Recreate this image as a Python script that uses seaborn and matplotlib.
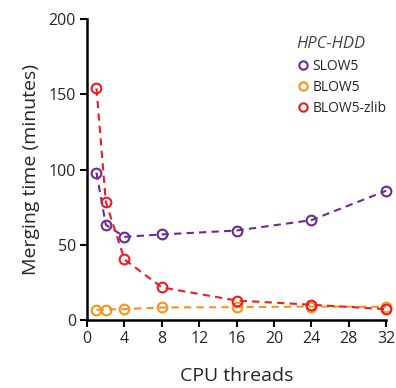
import matplotlib
matplotlib.use("Agg")
import matplotlib.pyplot as plt
import seaborn as sns
import pandas as pd
from matplotlib.lines import Line2D

threads = [1, 2, 4, 8, 16, 24, 32]
slow5 = [98, 63.3, 55.3, 56.9, 59.5, 66.4, 85.9]
blow5 = [6.8, 7.0, 7.3, 8.4, 8.6, 9.0, 8.8]
blow5_zlib = [153.9, 78.4, 40.3, 21.7, 13.0, 10.2, 7.3]
series_names = ["SLOW5", "BLOW5", "BLOW5-zlib"]
colors = ["#6b2c91", "#f7941d", "#ed1c24"]

rows = []
for name, vals in zip(series_names, [slow5, blow5, blow5_zlib]):
    for t, v in zip(threads, vals):
        rows.append({"threads": t, "time": v, "format": name})
df = pd.DataFrame(rows)

sns.set_style("ticks")
plt.rcParams['font.family'] = ['Open Sans', 'DejaVu Sans']

fig = plt.figure(figsize=(3.96, 3.88), dpi=100)
ax = fig.add_axes([0.22, 0.175, 0.755, 0.776])

palette = dict(zip(series_names, colors))
sns.lineplot(data=df, x="threads", y="time", hue="format", palette=palette,
             ax=ax, linestyle=(0, (3.5, 2.5)), linewidth=1.5, legend=False,
             marker="o", markersize=7, markerfacecolor="none",
             markeredgewidth=1.5, clip_on=False)
for line in ax.lines:
    line.set_markerfacecolor("none")
    line.set_markeredgecolor(line.get_color())
    line.set_clip_on(False)

ax.set_xlim(0, 32)
ax.set_ylim(0, 200)
ax.set_xticks(range(0, 33, 4))
ax.set_yticks([0, 50, 100, 150, 200])
ax.tick_params(axis="both", labelsize=11.5, width=1.5, length=5, color="black", pad=3)
for s in ["left", "bottom"]:
    ax.spines[s].set_linewidth(1.8)
    ax.spines[s].set_color("black")
sns.despine(ax=ax)
ax.set_xlabel("CPU threads", fontsize=14, labelpad=14)
ax.set_ylabel("Merging time (minutes)", fontsize=14, labelpad=6)

handles = [Line2D([], [], linestyle="none", marker="o", markersize=6,
                  markerfacecolor="none", markeredgecolor=c, markeredgewidth=1.5)
           for c in colors]
leg = ax.legend(handles, series_names, title="HPC-HDD", loc="upper right",
                bbox_to_anchor=(1.03, 0.97), frameon=False, fontsize=10,
                handletextpad=0.2, handlelength=1.0, labelspacing=0.45,
                borderaxespad=0.2)
leg.get_title().set_fontstyle("italic")
leg.get_title().set_color("#444444")
leg.get_title().set_fontsize(12)
leg._legend_box.align = "left"

fig.savefig("out.png", dpi=100)
